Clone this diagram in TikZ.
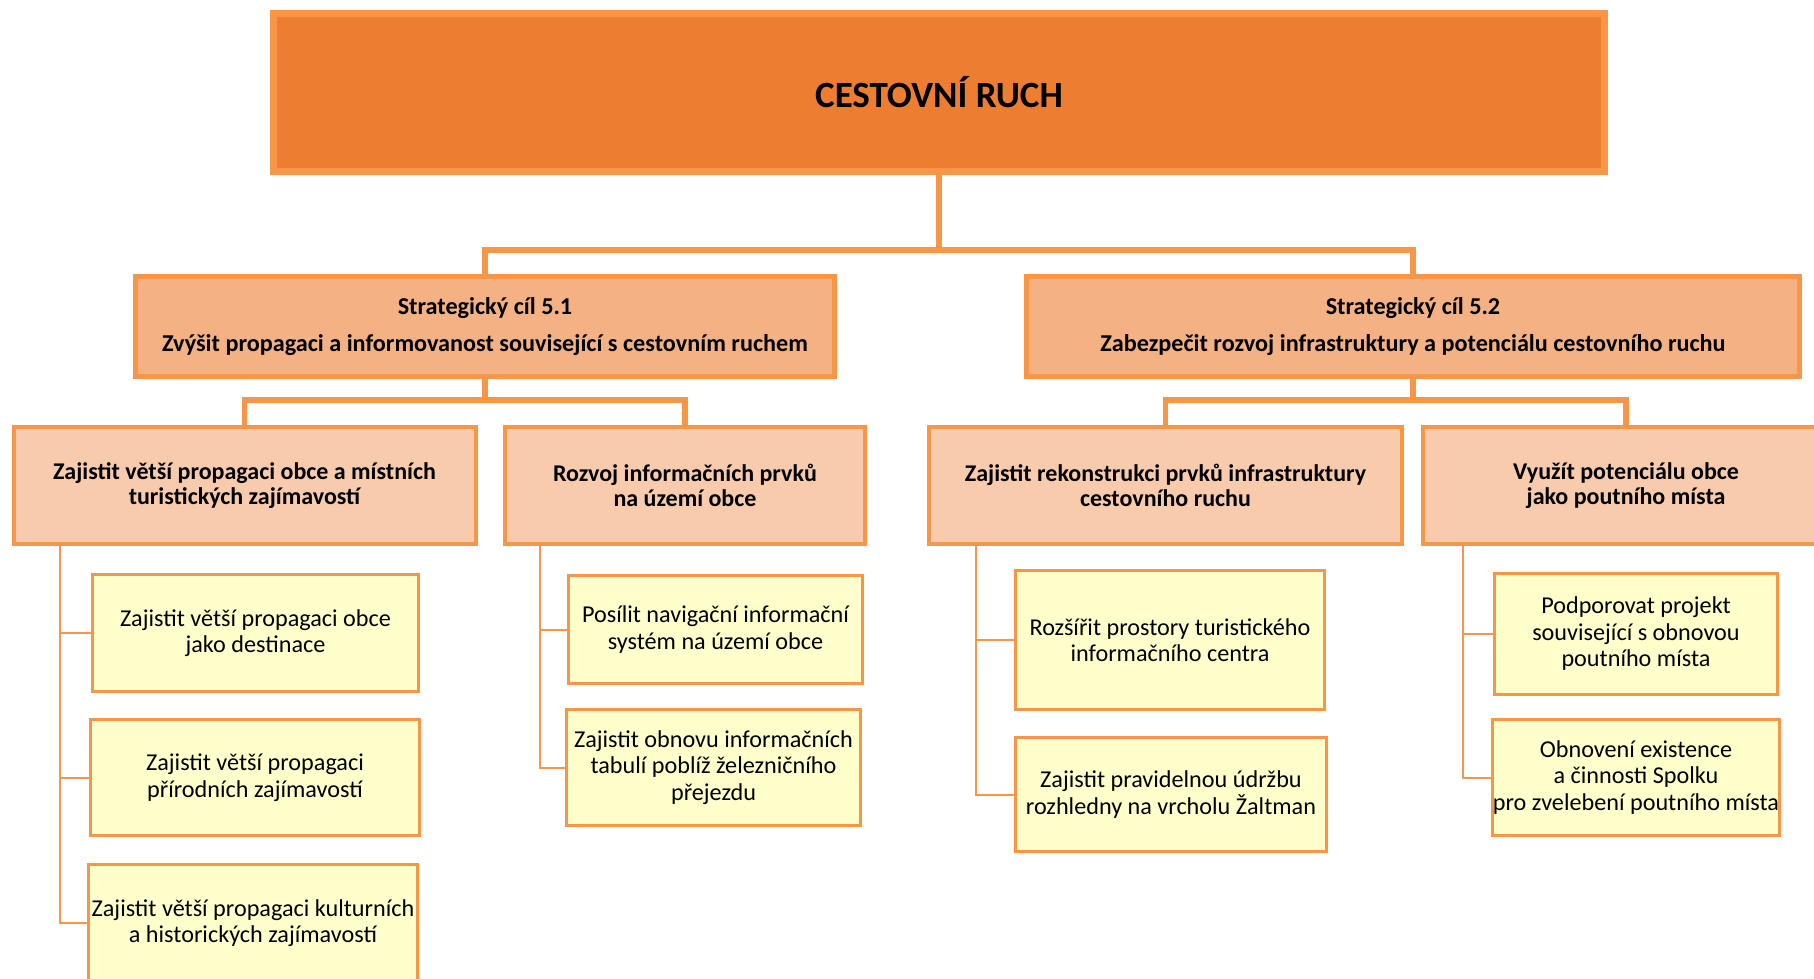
\documentclass[tikz,border=0pt]{standalone}
\usepackage{fontspec}
\setmainfont{Carlito}
\usetikzlibrary{calc}

\definecolor{lineorange}{HTML}{F79646}
\definecolor{topfill}{HTML}{ED7D31}
\definecolor{goalfill}{HTML}{F4B183}
\definecolor{measurefill}{HTML}{F8CBAD}
\definecolor{actionfill}{HTML}{FFFFCC}

\tikzset{
  topbox/.style={draw=lineorange, line width=3.5pt, fill=topfill, inner sep=0pt,
    font=\bfseries\fontsize{18.5}{22}\selectfont},
  goalbox/.style={draw=lineorange, line width=2.5pt, fill=goalfill, inner sep=0pt,
    align=center, minimum height=50pt, font=\bfseries\fontsize{12.1}{18.5}\selectfont},
  measurebox/.style={draw=lineorange, line width=2pt, fill=measurefill, inner sep=0pt,
    align=center, minimum height=58.5pt, font=\bfseries\fontsize{12}{12.75}\selectfont},
  actionbox/.style={draw=lineorange, line width=1.5pt, fill=actionfill, inner sep=0pt,
    align=center, font=\fontsize{12.1}{13.25}\selectfont},
  conn/.style={draw=lineorange, line width=2.7pt},
  subconn/.style={draw=lineorange, line width=1pt}
}

\begin{document}
\begin{tikzpicture}[x=0.5pt, y=-0.5pt]
        \useasboundingbox (0,0) rectangle (1814,979);
        \clip (0,0) rectangle (1814,979);

        % Main topic
        \node[topbox, minimum width=665.5pt, minimum height=79pt] (top) at (939,92.5) {CESTOVNÍ RUCH};

        % Strategic goals
        \node[goalbox, minimum width=349.5pt] (goal1) at (485,326.5)
            {Strategický cíl 5.1\\Zvýšit propagaci a informovanost související s cestovním ruchem};
        \node[goalbox, minimum width=386.5pt] (goal2) at (1413,326.5)
            {Strategický cíl 5.2\\Zabezpečit rozvoj infrastruktury a potenciálu cestovního ruchu};

        % Measures
        \node[measurebox, minimum width=231pt] (msA) at (244.5,485.5)
            {Zajistit větší propagaci obce a místních\\turistických zajímavostí};
        \node[measurebox, minimum width=180pt] (msB) at (685,485.5)
            {Rozvoj informačních prvků\\na území obce};
        \node[measurebox, minimum width=236.5pt] (msC) at (1165.5,485.5)
            {Zajistit rekonstrukci prvků infrastruktury\\cestovního ruchu};
        \node[measurebox, minimum width=203.5pt] (msD) at (1626,485.5)
            {Využít potenciálu obce\\jako poutního místa};

        % Activities
        \node[actionbox, minimum width=163pt, minimum height=58.5pt] (actA1) at (255.5,633)
            {Zajistit větší propagaci obce\\jako destinace};
        \node[actionbox, minimum width=164.5pt, minimum height=58pt] (actA2) at (255,777.5)
            {Zajistit větší propagaci\\přírodních zajímavostí};
        \node[actionbox, minimum width=164.5pt, minimum height=58.5pt] (actA3) at (253,923)
            {Zajistit větší propagaci kulturních\\a historických zajímavostí};
        \node[actionbox, minimum width=147pt, minimum height=54pt] (actB1) at (715.5,629.5)
            {Posílit navigační informační\\systém na území obce};
        \node[actionbox, minimum width=147pt, minimum height=58pt] (actB2) at (713.5,767.5)
            {Zajistit obnovu informačních\\tabulí poblíž železničního\\přejezdu};
        \node[actionbox, minimum width=154.5pt, minimum height=69.5pt] (actC1) at (1170,640)
            {Rozšířit prostory turistického\\informačního centra};
        \node[actionbox, minimum width=155.5pt, minimum height=57pt] (actC2) at (1171,794.5)
            {Zajistit pravidelnou údržbu\\rozhledny na vrcholu Žaltman};
        \node[actionbox, minimum width=141.5pt, minimum height=60.5pt] (actD1) at (1636,634)
            {Podporovat projekt\\související s obnovou\\poutního místa};
        \node[actionbox, minimum width=142.5pt, minimum height=58pt] (actD2) at (1636,777.5)
            {Obnovení existence\\a činnosti Spolku\\pro zvelebení poutního místa};

        % Bus points
        \coordinate (bus0) at (939,250);
        \coordinate (bus1) at (485,400);
        \coordinate (bus2) at (1413,400);
        \coordinate (spA) at (60,546);
        \coordinate (spB) at (540,546);
        \coordinate (spC) at (976,546);
        \coordinate (spD) at (1463,546);

        % Connectors
        \draw[conn] (top.south) -- (bus0) -| (goal1.north);
        \draw[conn] (bus0) -| (goal2.north);
        \draw[conn] (goal1.south) -- (bus1) -| (msA.north);
        \draw[conn] (bus1) -| (msB.north);
        \draw[conn] (goal2.south) -- (bus2) -| (msC.north);
        \draw[conn] (bus2) -| (msD.north);

        \draw[subconn] (spA) |- (actA1.west);
        \draw[subconn] (spA) |- (actA2.west);
        \draw[subconn] (spA) |- (actA3.west);
        \draw[subconn] (spB) |- (actB1.west);
        \draw[subconn] (spB) |- (actB2.west);
        \draw[subconn] (spC) |- (actC1.west);
        \draw[subconn] (spC) |- (actC2.west);
        \draw[subconn] (spD) |- (actD1.west);
        \draw[subconn] (spD) |- (actD2.west);
    \end{tikzpicture}
\end{document}
